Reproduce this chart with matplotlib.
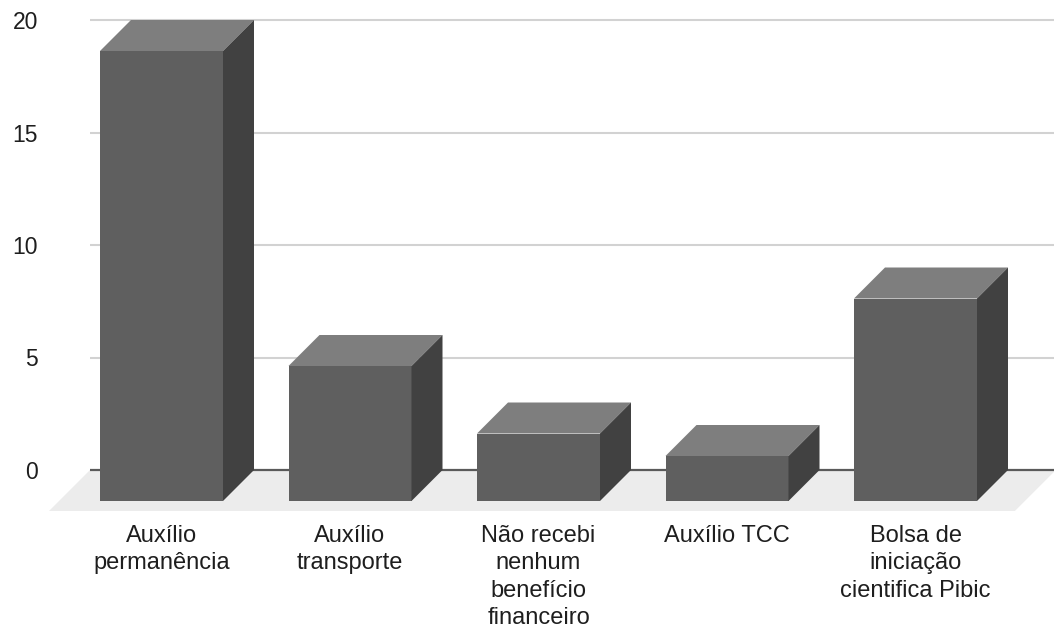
import matplotlib
matplotlib.use("Agg")
import matplotlib.pyplot as plt
from matplotlib.patches import Polygon

# Data
categories = [
    "Auxílio\npermanência",
    "Auxílio\ntransporte",
    "Não recebi\nnenhum\nbenefício\nfinanceiro",
    "Auxílio TCC",
    "Bolsa de\niniciação\ncientifica Pibic",
]
counts = [20, 6, 3, 2, 9]
y_ticks = [0, 5, 10, 15, 20]

plt.rcParams["font.family"] = ["Liberation Sans", "DejaVu Sans"]

# Canvas and layout (pixels)
W, H, DPI = 1054, 629, 100
AX_LEFT_PX = 90          # left end of the back wall
AX_BOTTOM_PX = 511       # front edge of the floor (from top)
SLOT_PX = 188.5          # distance between category centres
FIRST_CENTER_PX = 161.5
UNIT_PX = 22.5           # pixels per count
ZERO_PX = 470            # back-wall baseline (from top)
DEPTH_PX = 31            # bar depth offset (x and y)
FLOOR_DEPTH_PX = 41
BAR_WIDTH_PX = 123

FRONT = "#5f5f5f"
TOP = "#7e7e7e"
SIDE = "#414141"
FLOOR = "#ececec"
GRID = "#d2d2d2"
BASE = "#5a5a5a"
TEXT = "#1e1e1e"

fig = plt.figure(figsize=(W / DPI, H / DPI), dpi=DPI)
fig.patch.set_facecolor("white")
ax = fig.add_axes([AX_LEFT_PX / W, (H - AX_BOTTOM_PX) / H,
                   (W - AX_LEFT_PX) / W, AX_BOTTOM_PX / H])

x_lo = (AX_LEFT_PX - FIRST_CENTER_PX) / SLOT_PX
x_hi = (W - FIRST_CENTER_PX) / SLOT_PX
ax.set_xlim(x_lo, x_hi)
ax.set_ylim((ZERO_PX - AX_BOTTOM_PX) / UNIT_PX, ZERO_PX / UNIT_PX)

dx = DEPTH_PX / SLOT_PX
dy = DEPTH_PX / UNIT_PX
fdx = FLOOR_DEPTH_PX / SLOT_PX
fdy = FLOOR_DEPTH_PX / UNIT_PX
bw = BAR_WIDTH_PX / SLOT_PX

# Floor
floor = Polygon([(x_lo, 0), (x_hi + 0.01, 0), (x_hi + 0.01 - fdx, -fdy), (x_lo - fdx, -fdy)],
                closed=True, facecolor=FLOOR, edgecolor="none", zorder=0.5, clip_on=False)
ax.add_patch(floor)

# Back-wall gridlines and baseline
ax.hlines([t for t in y_ticks if t > 0], x_lo, x_hi, colors=GRID, linewidth=1.5, zorder=1)
ax.hlines([0], x_lo, x_hi, colors=BASE, linewidth=1.6, zorder=2)

# Bars: front face via bar(), top and side faces as polygons
positions = list(range(len(counts)))
ax.bar(positions, counts, width=bw, bottom=-dy, color=FRONT, edgecolor="none", zorder=3)
for x, v in zip(positions, counts):
    left, right = x - bw / 2, x + bw / 2
    top = Polygon([(left, v - dy), (right, v - dy), (right + dx, v), (left + dx, v)],
                  closed=True, facecolor=TOP, edgecolor="none", zorder=3)
    side = Polygon([(right, -dy), (right + dx, 0), (right + dx, v), (right, v - dy)],
                   closed=True, facecolor=SIDE, edgecolor="none", zorder=3)
    ax.add_patch(top)
    ax.add_patch(side)

# Axes styling
for s in ax.spines.values():
    s.set_visible(False)
ax.set_facecolor("none")

ax.set_yticks(y_ticks)
ax.set_yticklabels([str(t) for t in y_ticks])
ax.tick_params(axis="y", length=0, pad=52 * 72 / DPI, labelsize=16.5, labelcolor=TEXT)

ax.set_xticks(positions)
ax.set_xticklabels(categories, linespacing=1.32)
ax.tick_params(axis="x", length=0, pad=10, labelsize=17, labelcolor=TEXT)

fig.savefig("out.png", dpi=DPI)
